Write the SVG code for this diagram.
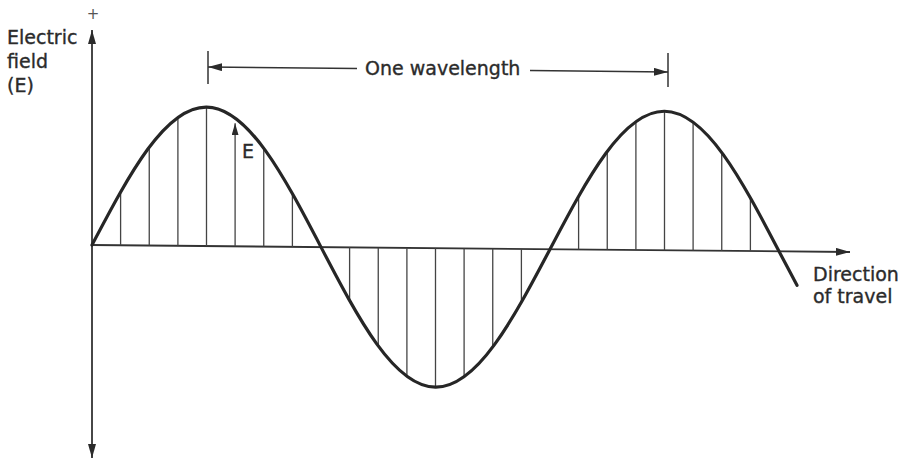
<svg xmlns="http://www.w3.org/2000/svg" width="907" height="470" viewBox="0 0 907 470">
<style>
  .txt { font-family: "DejaVu Sans", "Liberation Sans", sans-serif; font-size: 19px; fill: #2b2b2b; stroke: #2b2b2b; stroke-width: 0.35; }
  .axis { stroke: #333; stroke-width: 1.8; fill: none; }
  .hatch { stroke: #444; stroke-width: 1.3; fill: none; }
  .wave { stroke: #262626; stroke-width: 3.2; fill: none; stroke-linecap: round; }
  .dim { stroke: #333; stroke-width: 1.5; fill: none; }
</style>
<defs>
  <marker id="ah" viewBox="0 0 14 8" refX="14" refY="4" markerWidth="14" markerHeight="8" markerUnits="userSpaceOnUse" orient="auto-start-reverse">
    <path d="M0,0 L14,4 L0,8 z" fill="#2b2b2b"/>
  </marker>
  <marker id="ahs" viewBox="0 0 12 7" refX="12" refY="3.5" markerWidth="12" markerHeight="7" markerUnits="userSpaceOnUse" orient="auto-start-reverse">
    <path d="M0,0 L12,3.5 L0,7 z" fill="#2b2b2b"/>
  </marker>
</defs>
<rect width="907" height="470" fill="#ffffff"/>

<g id="axes">
  <line class="axis" x1="92" y1="30" x2="92" y2="458" marker-start="url(#ah)" marker-end="url(#ah)"/>
  <line class="axis" x1="92" y1="245" x2="850" y2="252" marker-end="url(#ah)"/>
</g>

<g id="plot" transform="translate(92,245) matrix(1,0.0092,0,1,0,0)">
  <g id="hatching">
    <line class="hatch" x1="28.6" y1="0" x2="28.6" y2="-53.2"/>
    <line class="hatch" x1="57.25" y1="0" x2="57.25" y2="-98.3"/>
    <line class="hatch" x1="85.9" y1="0" x2="85.9" y2="-128.4"/>
    <line class="hatch" x1="114.5" y1="0" x2="114.5" y2="-139"/>
    <line class="hatch" x1="171.75" y1="0" x2="171.75" y2="-98.3"/>
    <line class="hatch" x1="200.4" y1="0" x2="200.4" y2="-53.2"/>

    <line class="hatch" x1="257.6" y1="0" x2="257.6" y2="53.2"/>
    <line class="hatch" x1="286.25" y1="0" x2="286.25" y2="98.3"/>
    <line class="hatch" x1="314.9" y1="0" x2="314.9" y2="128.4"/>
    <line class="hatch" x1="343.5" y1="0" x2="343.5" y2="139"/>
    <line class="hatch" x1="372.1" y1="0" x2="372.1" y2="128.4"/>
    <line class="hatch" x1="400.75" y1="0" x2="400.75" y2="98.3"/>
    <line class="hatch" x1="429.4" y1="0" x2="429.4" y2="53.2"/>

    <line class="hatch" x1="486.6" y1="0" x2="486.6" y2="-53.2"/>
    <line class="hatch" x1="515.25" y1="0" x2="515.25" y2="-98.3"/>
    <line class="hatch" x1="543.9" y1="0" x2="543.9" y2="-128.4"/>
    <line class="hatch" x1="572.5" y1="0" x2="572.5" y2="-139"/>
    <line class="hatch" x1="601.1" y1="0" x2="601.1" y2="-128.4"/>
    <line class="hatch" x1="629.75" y1="0" x2="629.75" y2="-98.3"/>
    <line class="hatch" x1="658.4" y1="0" x2="658.4" y2="-53.2"/>
  </g>
  <g id="field-vector">
    <line class="hatch" x1="143.1" y1="0" x2="143.1" y2="-123" marker-end="url(#ahs)"/>
  </g>
  <path id="wave" class="wave" d="M0,0 C37.34,-71.21 73.06,-139 114.5,-139 C155.94,-139 191.66,-71.21 229,0 C266.34,71.21 302.06,139 343.5,139 C384.94,139 420.66,71.21 458,0 C495.34,-71.21 531.06,-139 572.5,-139 C613.94,-139 649.66,-71.21 687,0 C693,11.4 699,22.4 705,33.8"/>
</g>

<g id="wavelength-dimension">
  <line class="dim" x1="208" y1="51" x2="208" y2="84"/>
  <line class="dim" x1="668" y1="53" x2="668" y2="87"/>
  <line class="dim" x1="357" y1="68.6" x2="208" y2="67" marker-end="url(#ah)"/>
  <line class="dim" x1="530" y1="70.5" x2="668" y2="72" marker-end="url(#ah)"/>
  <text class="txt" x="365" y="75">One wavelength</text>
</g>

<g id="labels">
  <text class="txt" x="93" y="19" text-anchor="middle" style="font-size:15px;fill:#555;stroke:none">+</text>
  <text class="txt" x="7" y="44">Electric</text>
  <text class="txt" x="7" y="68">field</text>
  <text class="txt" x="7" y="92">(E)</text>
  <text class="txt" x="242" y="158" style="font-size:19px">E</text>
  <text class="txt" x="813" y="281">Direction</text>
  <text class="txt" x="813" y="303">of travel</text>
</g>
</svg>
